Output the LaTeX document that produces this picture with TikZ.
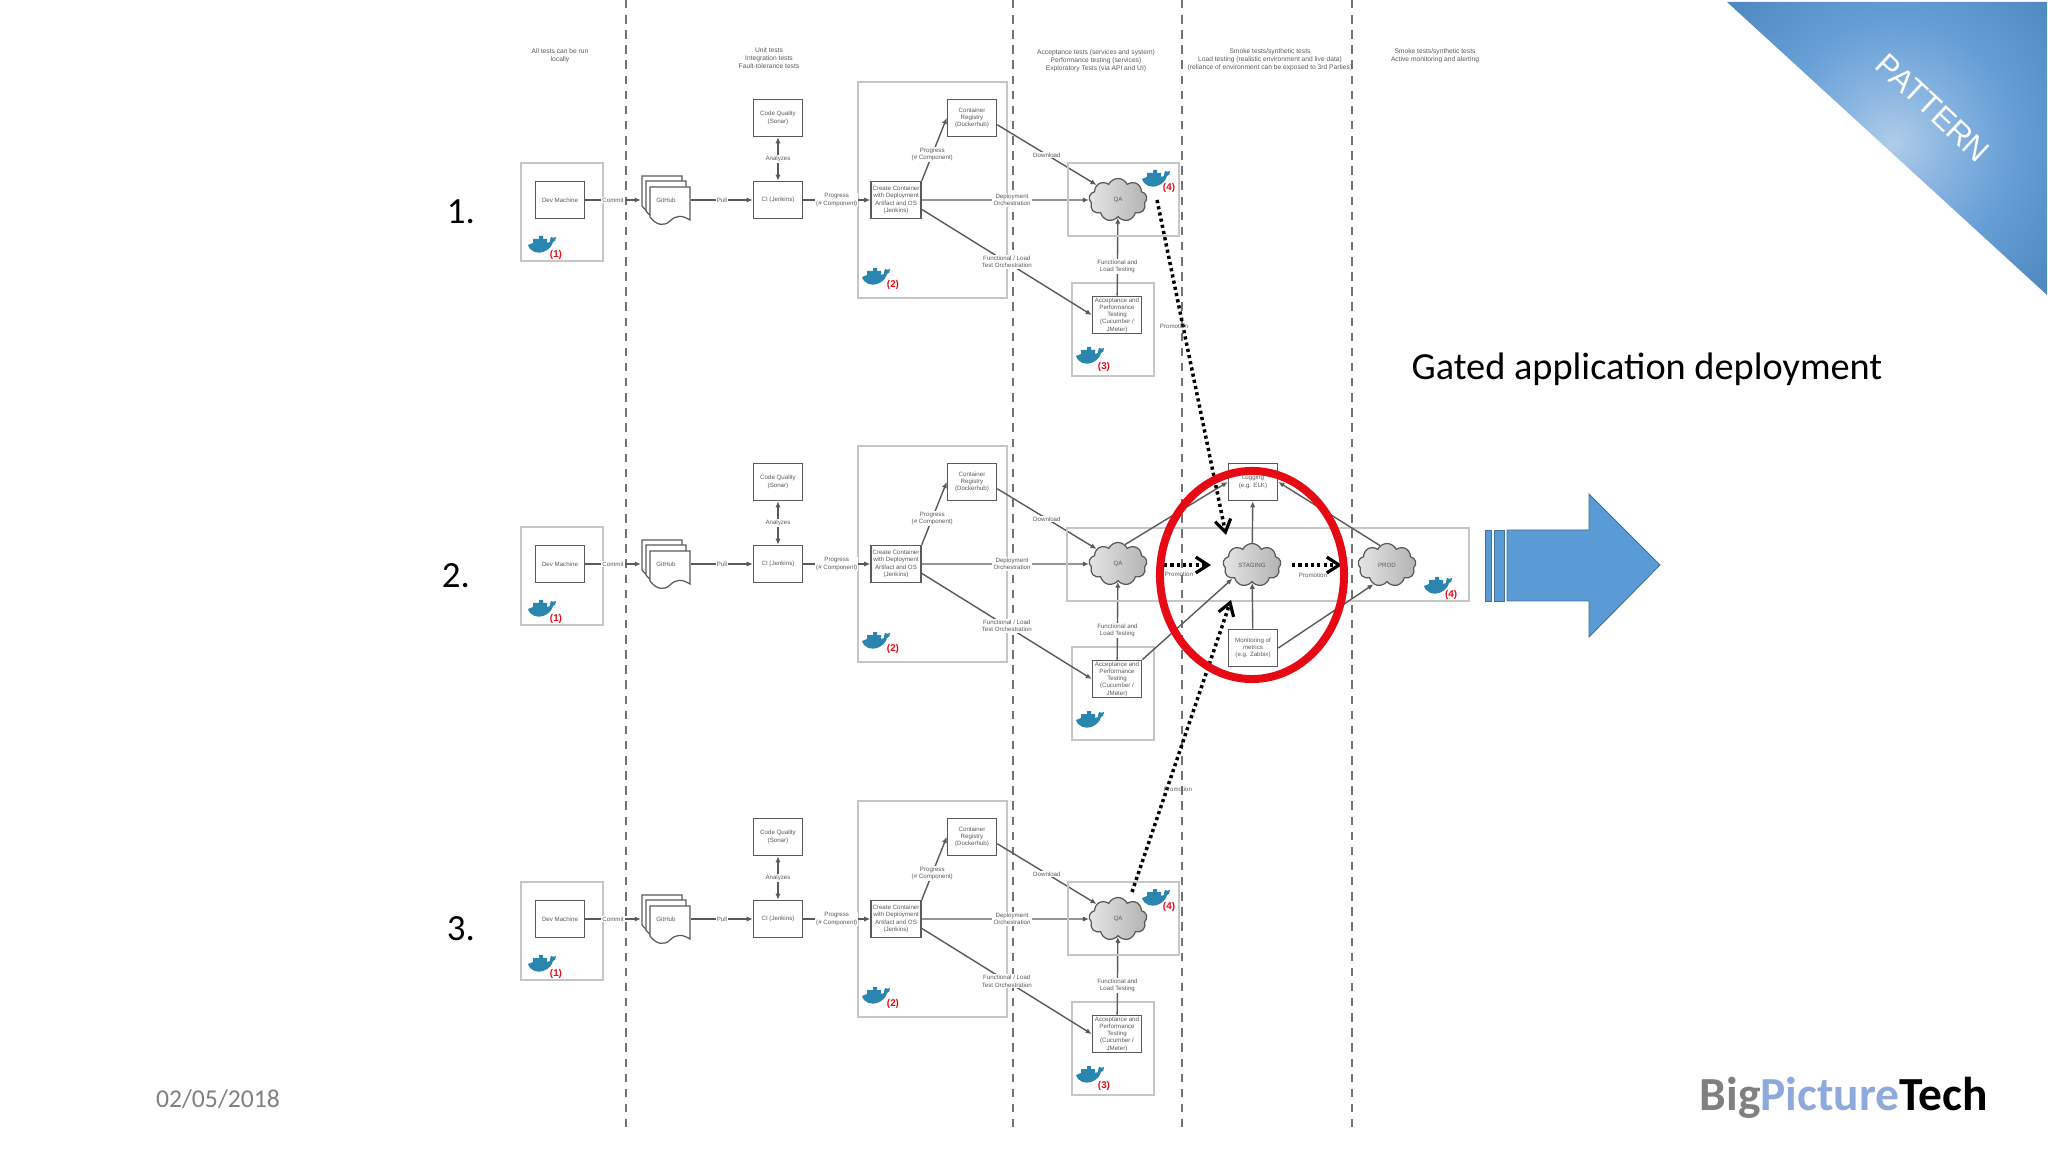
\documentclass[tikz,border=0pt]{standalone}
\usepackage{fontspec}
\setmainfont{Carlito}
\newfontfamily\labelfont{Liberation Sans}
\usetikzlibrary{arrows.meta,shapes.symbols,shapes.geometric,shadings}
\definecolor{arrowblue}{HTML}{5B9BD5}
\definecolor{arrowedge}{HTML}{41719C}
\definecolor{whaleblue}{HTML}{2A86AE}
\definecolor{inkgray}{HTML}{5A5A5A}
\definecolor{logoblue}{HTML}{8EA9DB}
\definecolor{gatered}{HTML}{E60A14}
\pgfdeclareradialshading{cornerglow}{\pgfpointorigin}{
  rgb(0bp)=(0.69,0.80,0.91);
  rgb(6bp)=(0.54,0.71,0.88);
  rgb(13bp)=(0.40,0.62,0.84);
  rgb(24bp)=(0.30,0.52,0.74);
  rgb(35bp)=(0.18,0.42,0.64);
  rgb(50bp)=(0.18,0.42,0.64)}
\tikzset{
  tinytext/.style={font=\fontsize{1.75}{2.05}\selectfont\labelfont, text=inkgray, align=center},
  stepbox/.style={draw=inkgray, line width=0.45pt, fill=white, inner sep=0pt,
    minimum width=0.49cm, minimum height=0.37cm, tinytext},
  zonebox/.style={draw=gray!45, line width=0.4pt},
  cloudnode/.style={cloud, cloud puffs=9, cloud puff arc=130, aspect=1.3, draw=gray!70!black,
    line width=0.35pt, inner sep=0pt, minimum width=0.58cm, minimum height=0.43cm,
    left color=gray!20, middle color=white, right color=gray!60, tinytext},
  link/.style={draw=inkgray, line width=0.4pt, ->},
  edgetag/.style={tinytext, fill=white, inner sep=0.3pt},
  promo/.style={line width=1pt, dash pattern=on 0.9pt off 0.9pt,
    -{Straight Barb[length=3.5pt,width=4.5pt,line width=0.9pt]}},
  tagnum/.style={font=\fontsize{2.8}{3}\selectfont\labelfont\bfseries, text=gatered, inner sep=0pt},
  lane/.style={draw=inkgray!85, line width=0.42pt, dash pattern=on 2.4pt off 1.9pt},
  rownum/.style={font=\fontsize{10.5}{12}\selectfont, inner sep=0pt},
  whale/.pic={
    \fill[whaleblue] (-14,1) .. controls (-12,8) and (-4,10) .. (1,8)
      .. controls (7,6) and (10,2) .. (11,-2) .. controls (13,-2) and (14,-4) .. (14,-7)
      .. controls (12,-6) and (11,-6) .. (9,-7) .. controls (8,-5) and (8,-3) .. (8,-2)
      -- (5,-1) -- (5,-5) -- (1,-5) -- (1,-8) -- (-3,-8) -- (-3,-5) -- (-9,-5) -- (-9,-1) -- cycle;
  }
}
\begin{document}
\begin{tikzpicture}[x=0.01cm, y=-0.01cm, >={Latex[length=1.7pt,width=1.5pt]}]
\useasboundingbox (0,0) rectangle (2048,1152);
% corner banner
\begin{scope}
\clip (1727,2) -- (2047,2) -- (2047,295) -- cycle;
\path[shading=cornerglow] (1893,143) circle (232);
\end{scope}
\node[rotate=-43, text=white, font=\fontsize{8.9}{10}\selectfont\labelfont, inner sep=0pt] (bannertext) at (1933,108) {PATTERN};
% lanes
\foreach \lanex in {626,1013,1182,1352}
  \draw[lane] (\lanex,0) -- (\lanex,1130);
% headers
\node[tinytext, font=\fontsize{1.9}{2.2}\selectfont\labelfont] (headlocal) at (560,56) {All tests can be run\\locally};
\node[tinytext, font=\fontsize{1.9}{2.2}\selectfont\labelfont] (headunit) at (769,58) {Unit tests\\Integration tests\\Fault-tolerance tests};
\node[tinytext, font=\fontsize{1.9}{2.2}\selectfont\labelfont] (headaccept) at (1096,61) {Acceptance tests (services and system)\\Performance testing (services)\\Exploratory Tests (via API and UI)};
\node[tinytext, font=\fontsize{1.9}{2.2}\selectfont\labelfont] (headstage) at (1270,60) {Smoke tests/synthetic tests\\Load testing (realistic environment and live data)\\(reliance of environment can be exposed to 3rd Parties)};
\node[tinytext, font=\fontsize{1.9}{2.2}\selectfont\labelfont] (headprod) at (1435,56) {Smoke tests/synthetic tests\\Active monitoring and alerting};
% the three pipelines
\foreach \rowid/\dy in {a/0,b/364,c/719} {
\begin{scope}[shift={(0,\dy)}]
\draw[zonebox] (521,163) rectangle (603,261);
\draw[zonebox] (858,82) rectangle (1007,298);
\draw[zonebox] (1072,283) rectangle (1154,376);
\node[stepbox] (dev\rowid) at (560,200) {Dev Machine};
\foreach \sx/\sy in {642/176,646/181,650/187}
  \draw[draw=inkgray, line width=0.35pt, fill=white, shift={(\sx,\sy)}] (0,0) -- (40,0) -- (40,33)
    .. controls (32,28) and (26,28) .. (20,34) .. controls (14,40) and (6,38) .. (0,30) -- cycle;
\node[tinytext, inner sep=0pt, minimum width=0.49cm, minimum height=0.49cm] (git\rowid) at (666,200) {GitHub};
\node[stepbox] (ci\rowid) at (778,200) {CI (Jenkins)};
\node[stepbox] (sonar\rowid) at (778,118) {Code Quality\\(Sonar)};
\node[stepbox, minimum width=0.5cm] (build\rowid) at (896,200) {Create Container\\with Deployment\\Artifact and OS\\(Jenkins)};
\node[stepbox] (registry\rowid) at (972,118) {Container\\Registry\\(Dockerhub)};
\node[cloudnode] (qa\rowid) at (1118,200) {QA};
\node[stepbox] (accept\rowid) at (1117,315) {Acceptance and\\Performance\\Testing\\(Cucumber /\\JMeter)};
\draw[link] (dev\rowid) -- (git\rowid) node[midway, edgetag] {Commit};
\draw[link] (git\rowid) -- (ci\rowid) node[midway, edgetag] {Pull};
\draw[link] (ci\rowid) -- (build\rowid) node[midway, edgetag] {Progress\\(\# Component)};
\draw[link, <->] (ci\rowid) -- (sonar\rowid) node[midway, edgetag] {Analyzes};
\draw[link] (build\rowid.north east) -- (registry\rowid.west) node[pos=0.42, edgetag] {Progress\\(\# Component)};
\draw[link] (registry\rowid.-15) -- (qa\rowid.145) node[midway, edgetag] {Download};
\draw[link] (build\rowid) -- (qa\rowid) node[pos=0.54, edgetag] {Deployment\\Orchestration};
\draw[link] (build\rowid.-20) -- (accept\rowid.west) node[midway, edgetag] {Functional / Load\\Test Orchestration};
\draw[link] (accept\rowid) -- (qa\rowid) node[pos=0.38, edgetag] {Functional and\\Load Testing};
% whales
\pic at (542,244) {whale};
\pic at (876,276) {whale};
\pic at (1090,355) {whale};
\node[tagnum] (taga\rowid) at (556,255) {(1)};
\node[tagnum] (tagb\rowid) at (893,285) {(2)};
\end{scope}
}
\node[tagnum] (tagca) at (1104,367) {(3)};
\node[tagnum] (tagcc) at (1104,1086) {(3)};
% QA zones of rows one and three
\draw[zonebox] (1068,163) rectangle (1179,236);
\draw[zonebox] (1068,882) rectangle (1179,955);
\pic at (1156,178) {whale};
\pic at (1156,897) {whale};
\node[tagnum] (tagda) at (1169,188) {(4)};
\node[tagnum] (tagdc) at (1169,907) {(4)};
% row two, up to production
\draw[zonebox] (1067,528) rectangle (1469,601);
\node[cloudnode] (stage) at (1252,565) {STAGING};
\node[cloudnode] (prod) at (1387,565) {PROD};
\node[stepbox] (logging) at (1253,482) {Logging\\(e.g. ELK)};
\node[stepbox] (metrics) at (1253,648) {Monitoring of\\metrics\\(e.g. Zabbix)};
\pic at (1438,585) {whale};
\node[tagnum] (tagdb) at (1451,595) {(4)};
\draw[link] (qab.70) -- (logging.west);
\draw[link] (prod.110) -- (logging.east);
\draw[link] (stage) -- (logging);
\draw[link] (metrics) -- (stage);
\draw[link] (acceptb.north east) -- (stage.215);
\draw[link] (metrics.east) -- (prod.235);
% promotions
\coordinate (qaaout) at (1157,200);
\coordinate (stagetop) at (1226,535);
\coordinate (qacout) at (1132,892);
\coordinate (stagelow) at (1231,600);
\coordinate (qabout) at (1164,565);
\coordinate (stagein) at (1211,565);
\coordinate (stageout) at (1292,565);
\coordinate (prodin) at (1342,565);
\draw[promo] (qaaout) -- (stagetop);
\draw[promo] (qacout) -- (stagelow);
\draw[promo] (qabout) -- (stagein);
\draw[promo] (stageout) -- (prodin);
\node[tinytext] (promoa) at (1174,326) {Promotion};
\node[tinytext] (promob) at (1179,574) {Promotion};
\node[tinytext] (promoc) at (1178,789) {Promotion};
\node[tinytext] (promod) at (1313,575) {Promotion};
% gate
\node[draw=gatered, line width=0.08cm, ellipse, minimum width=1.84cm, minimum height=2.08cm, inner sep=0pt] (gate) at (1252,575) {};
% big arrow
\draw[draw=arrowedge, fill=arrowblue, line width=0.25pt] (1485,530) rectangle (1491,601);
\draw[draw=arrowedge, fill=arrowblue, line width=0.25pt] (1494,530) rectangle (1504,601);
\draw[draw=arrowedge, fill=arrowblue, line width=0.25pt] (1507,530) -- (1589,530) -- (1589,494) -- (1660,565)
  -- (1589,637) -- (1589,601) -- (1507,601) -- cycle;
% slide texts
\node[rownum] (rowone) at (461,212) {1.};
\node[rownum] (rowtwo) at (456,576) {2.};
\node[rownum] (rowthree) at (461,929) {3.};
\node[font=\fontsize{10.9}{13}\selectfont, inner sep=0pt] (title) at (1647,369) {Gated application deployment};
\node[font=\fontsize{7.3}{9}\selectfont, text=gray, inner sep=0pt] (datestamp) at (218,1099) {02/05/2018};
\node[font=\fontsize{13.5}{15}\selectfont\bfseries, inner sep=0pt] (logo) at (1844,1098) {\textcolor{gray}{Big}\textcolor{logoblue}{Picture}\textcolor{black}{Tech}};
\end{tikzpicture}
\end{document}
